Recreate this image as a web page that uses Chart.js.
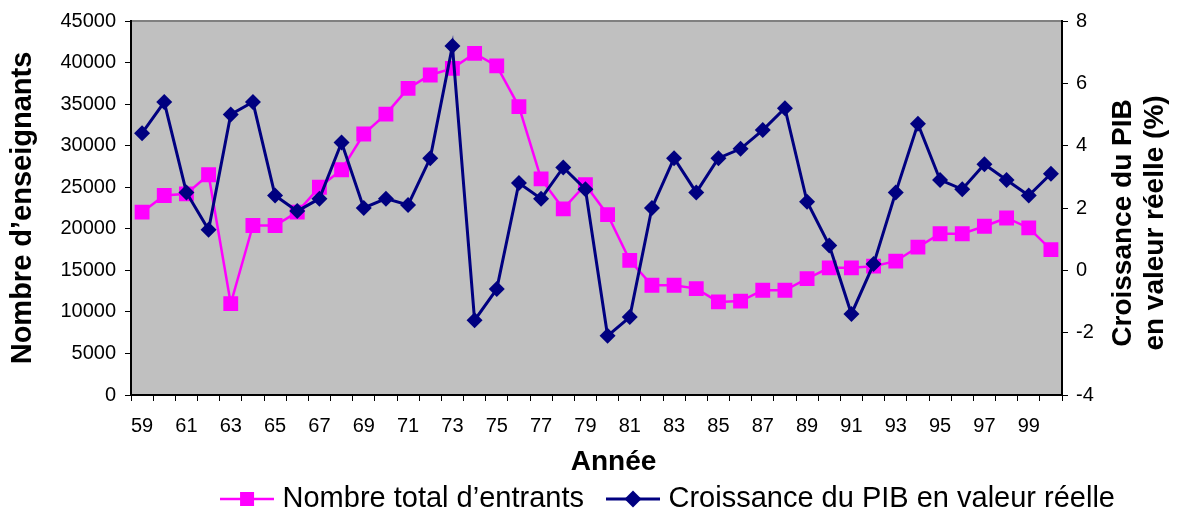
<!DOCTYPE html>
<html lang="fr">
<head>
<meta charset="utf-8">
<title>Entrants et croissance du PIB</title>
<script src="https://cdn.jsdelivr.net/npm/chart.js@4/dist/chart.umd.min.js"></script>
<style>
  html, body { margin: 0; padding: 0; background: #ffffff; }
  #wrap { width: 1179px; height: 513px; }
</style>
</head>
<body>
<div id="wrap"><canvas id="chart" width="1179" height="513"></canvas></div>
<script>
// Années (1959–2000), libellées sur deux chiffres
const years = ['59','60','61','62','63','64','65','66','67','68',
               '69','70','71','72','73','74','75','76','77','78',
               '79','80','81','82','83','84','85','86','87','88',
               '89','90','91','92','93','94','95','96','97','98',
               '99','00'];

// Nombre total d'entrants dans l'enseignement
const entrants = [22000, 24000, 24200, 26500, 11000, 20400, 20400, 22000, 25000, 27100,
                  31400, 33800, 36900, 38500, 39300, 41100, 39600, 34700, 26000, 22400,
                  25300, 21700, 16200, 13200, 13200, 12800, 11200, 11300, 12600, 12600,
                  14000, 15300, 15300, 15500, 16100, 17800, 19400, 19400, 20300, 21300,
                  20100, 17500];

// Croissance du PIB en valeur réelle (%)
const pibGrowth = [4.4, 5.4, 2.5, 1.3, 5.0, 5.4, 2.4, 1.9, 2.3, 4.1,
                   2.0, 2.3, 2.1, 3.6, 7.2, -1.6, -0.6, 2.8, 2.3, 3.3,
                   2.6, -2.1, -1.5, 2.0, 3.6, 2.5, 3.6, 3.9, 4.5, 5.2,
                   2.2, 0.8, -1.4, 0.2, 2.5, 4.7, 2.9, 2.6, 3.4, 2.9,
                   2.4, 3.1];

// Graduations des deux axes verticaux
const leftTicks = [0, 5000, 10000, 15000, 20000, 25000, 30000, 35000, 40000, 45000];
const rightTicks = [-4, -2, 0, 2, 4, 6, 8];

const seriesNames = ['Nombre total d\u2019entrants', 'Croissance du PIB en valeur r\u00e9elle'];
const leftTitle = 'Nombre d\u2019enseignants';
const rightTitle = ['Croissance du PIB', 'en valeur r\u00e9elle (%)'];
const xTitle = 'Ann\u00e9e';

const PINK = '#FF00FF';
const NAVY = '#000080';
const FONT = "'Liberation Sans', Arial, Helvetica, sans-serif";

// Symbole de légende : segment de ligne avec son marqueur
function legendSymbol(color, shape, lineWidth) {
  const c = document.createElement('canvas');
  c.width = 54; c.height = 20;
  const g = c.getContext('2d');
  g.strokeStyle = color;
  g.lineWidth = lineWidth;
  g.beginPath(); g.moveTo(0, 10); g.lineTo(54, 10); g.stroke();
  g.fillStyle = color;
  if (shape === 'square') {
    g.fillRect(20, 3, 14, 14);
  } else {
    g.beginPath();
    g.moveTo(27, 1.5); g.lineTo(35.5, 10); g.lineTo(27, 18.5); g.lineTo(18.5, 10);
    g.closePath(); g.fill();
  }
  return c;
}
const legendImages = [legendSymbol(PINK, 'square', 2.5), legendSymbol(NAVY, 'diamond', 3)];

// Fond gris de la zone de tracé et bordure supérieure
const plotBackground = {
  id: 'plotBackground',
  beforeDraw(chart) {
    const {ctx, chartArea: a} = chart;
    ctx.save();
    ctx.fillStyle = '#C0C0C0';
    ctx.fillRect(a.left, a.top, a.right - a.left, a.bottom - a.top);
    ctx.strokeStyle = '#808080';
    ctx.lineWidth = 2;
    ctx.beginPath(); ctx.moveTo(a.left, a.top); ctx.lineTo(a.right, a.top); ctx.stroke();
    ctx.restore();
  }
};

// Titre de l'axe de droite, sur deux lignes, lu de bas en haut
const rightAxisTitle = {
  id: 'rightAxisTitle',
  afterDraw(chart) {
    const {ctx} = chart;
    const cy = 223;
    const baselines = [1131, 1163];
    ctx.save();
    ctx.font = 'bold 28px ' + FONT;
    ctx.fillStyle = '#000';
    ctx.textAlign = 'center';
    ctx.textBaseline = 'alphabetic';
    rightTitle.forEach((line, i) => {
      ctx.save();
      ctx.translate(baselines[i], cy);
      ctx.rotate(-Math.PI / 2);
      ctx.fillText(line, 0, 0);
      ctx.restore();
    });
    ctx.restore();
  }
};

// Place la légende sous le graphique (centrée sur x = 667, texte à y = 499)
// et décale légèrement le titre de l'axe des abscisses vers la droite
const legendPlacement = {
  id: 'legendPlacement',
  afterLayout(chart) {
    const lg = chart.legend;
    if (lg && lg.lineWidths) {
      const pad = lg.options.labels.padding;
      const fontSize = lg.options.labels.font.size;
      const lw = lg.lineWidths[0];
      const cursorX = (lg.left + pad + lg.right - lw) / 2;
      const visualStart = cursorX - 6;
      const visualEnd = cursorX + lw - pad;
      const shiftX = 667.5 - (visualStart + visualEnd) / 2;
      lg.left += shiftX; lg.right += shiftX;
      lg.top = 499 - pad - fontSize / 2;
      lg.bottom = chart.height;
      lg.height = lg.bottom - lg.top;
    }
    const xs = chart.scales.x;
    if (xs && !xs._titleShifted) {
      const baseDrawTitle = xs.drawTitle;
      xs.drawTitle = function () {
        const l = this.left, r = this.right;
        this.left = l + 17; this.right = r + 17;
        baseDrawTitle.call(this);
        this.left = l; this.right = r;
      };
      xs._titleShifted = true;
    }
  }
};

const ctx = document.getElementById('chart').getContext('2d');
new Chart(ctx, {
  type: 'line',
  data: {
    labels: years,
    datasets: [
      {
        label: seriesNames[0],
        data: entrants,
        yAxisID: 'y',
        order: 1,
        borderColor: PINK,
        backgroundColor: PINK,
        borderWidth: 2.5,
        pointStyle: 'rect',
        pointRadius: 10.5,
        pointBorderWidth: 0,
        pointBackgroundColor: PINK,
        tension: 0
      },
      {
        label: seriesNames[1],
        data: pibGrowth,
        yAxisID: 'y1',
        order: 0,
        borderColor: NAVY,
        backgroundColor: NAVY,
        borderWidth: 3,
        pointStyle: 'rectRot',
        pointRadius: 8,
        pointBorderWidth: 0,
        pointBackgroundColor: NAVY,
        tension: 0
      }
    ]
  },
  options: {
    responsive: false,
    animation: false,
    devicePixelRatio: 1,
    layout: { padding: { top: 21, left: 0, right: 0, bottom: 0 } },
    plugins: {
      tooltip: { enabled: false },
      legend: {
        position: 'bottom',
        maxHeight: 30,
        labels: {
          usePointStyle: true,
          pointStyleWidth: 42,
          color: '#000',
          font: { family: FONT, size: 29 },
          padding: 28,
          sort: (a, b) => a.datasetIndex - b.datasetIndex,
          generateLabels(chart) {
            const items = Chart.defaults.plugins.legend.labels.generateLabels(chart);
            items.forEach(it => { it.pointStyle = legendImages[it.datasetIndex]; });
            return items;
          }
        }
      }
    },
    scales: {
      x: {
        type: 'category',
        offset: true,
        grid: { offset: true, drawOnChartArea: false, drawTicks: true, tickLength: 6, color: '#000', lineWidth: 1 },
        border: { display: true, color: '#000', width: 2 },
        ticks: {
          autoSkip: false, maxRotation: 0, minRotation: 0,
          color: '#000', font: { family: FONT, size: 20 }, padding: 13,
          callback: (v, i) => (i % 2 === 0 ? years[i] : '')
        },
        title: { display: true, text: xTitle, color: '#000', font: { family: FONT, size: 28, weight: 'bold' }, padding: { top: 0, bottom: 4 } },
        afterFit: s => { s.height = 88; }
      },
      y: {
        position: 'left',
        min: leftTicks[0],
        max: leftTicks[leftTicks.length - 1],
        afterBuildTicks: s => { s.ticks = leftTicks.map(v => ({ value: v })); },
        grid: { drawOnChartArea: false, drawTicks: true, tickLength: 6, color: '#000', lineWidth: 1 },
        border: { display: true, color: '#000', width: 2 },
        ticks: { color: '#000', font: { family: FONT, size: 20 }, padding: 9, callback: v => String(v) },
        title: { display: true, text: leftTitle, color: '#000', font: { family: FONT, size: 29, weight: 'bold' }, padding: { top: 6, bottom: 0 } },
        afterFit: s => { s.width = 131; }
      },
      y1: {
        position: 'right',
        min: rightTicks[0],
        max: rightTicks[rightTicks.length - 1],
        afterBuildTicks: s => { s.ticks = rightTicks.map(v => ({ value: v })); },
        grid: { drawOnChartArea: false, drawTicks: true, tickLength: 6, color: '#000', lineWidth: 1 },
        border: { display: true, color: '#000', width: 2 },
        ticks: { color: '#000', font: { family: FONT, size: 20 }, padding: 8, callback: v => String(v) },
        afterFit: s => { s.width = 117; }
      }
    }
  },
  plugins: [plotBackground, rightAxisTitle, legendPlacement]
});
</script>
</body>
</html>
